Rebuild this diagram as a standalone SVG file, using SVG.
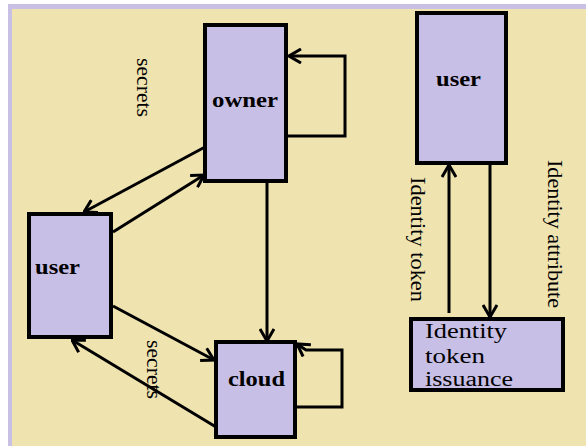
<svg xmlns="http://www.w3.org/2000/svg" width="586" height="446" viewBox="0 0 586 446">
<style>
.node{fill:#C8BFE6;stroke:#000;stroke-width:4}
.lbl{font-family:"Liberation Serif","Times New Roman",serif;font-weight:bold;font-size:22px;fill:#000}
.txt{font-family:"Liberation Serif","Times New Roman",serif;font-size:20px;fill:#000}
.rot{font-family:"Liberation Serif","Times New Roman",serif;font-size:22px;fill:#000}
.edge{fill:none;stroke:#000;stroke-width:3}
</style>
<defs>
<marker id="arr" viewBox="0 0 14 16" refX="13" refY="8" markerWidth="14" markerHeight="16" markerUnits="userSpaceOnUse" orient="auto">
<path d="M1,1 L13,8 L1,15" fill="none" stroke="#000" stroke-width="3"/>
</marker>
</defs>
<rect x="0" y="0" width="586" height="446" fill="#FFFFFF"/>
<rect x="8" y="4" width="578" height="442" fill="#C9C0E6"/>
<rect x="12" y="9" width="574" height="437" fill="#EFE3B0"/>

<g id="connectors">
<line class="edge" x1="205" y1="147" x2="84" y2="212" marker-end="url(#arr)"/>
<line class="edge" x1="113" y1="232" x2="204" y2="175" marker-end="url(#arr)"/>
<line class="edge" x1="113" y1="306" x2="214" y2="360" marker-end="url(#arr)"/>
<line class="edge" x1="216" y1="427" x2="72" y2="340" marker-end="url(#arr)"/>
<line class="edge" x1="267" y1="182" x2="267" y2="341" marker-end="url(#arr)"/>
<polyline class="edge" points="288,136 345,136 345,56 289,56" marker-end="url(#arr)"/>
<polyline class="edge" points="297,407 342,407 342,350 306,350 297,344" marker-end="url(#arr)"/>
<line class="edge" x1="449" y1="313" x2="449" y2="165" marker-end="url(#arr)"/>
<line class="edge" x1="490" y1="164" x2="490" y2="317" marker-end="url(#arr)"/>
</g>

<g id="owner">
<rect class="node" x="205" y="25" width="81" height="156"/>
<text class="lbl" x="212" y="107" textLength="66" lengthAdjust="spacingAndGlyphs">owner</text>
</g>
<g id="user-left">
<rect class="node" x="29" y="214" width="82" height="123"/>
<text class="lbl" x="35" y="274" textLength="45" lengthAdjust="spacingAndGlyphs">user</text>
</g>
<g id="cloud">
<rect class="node" x="216" y="342" width="79" height="95"/>
<text class="lbl" x="228" y="386" textLength="57" lengthAdjust="spacingAndGlyphs">cloud</text>
</g>
<g id="user-right">
<rect class="node" x="417" y="13" width="89" height="150"/>
<text class="lbl" x="436" y="86" textLength="45" lengthAdjust="spacingAndGlyphs">user</text>
</g>
<g id="issuance">
<rect class="node" x="411" y="319" width="152" height="71"/>
<text class="txt" x="425" y="338" textLength="82" lengthAdjust="spacingAndGlyphs">Identity</text>
<text class="txt" x="425" y="363" textLength="60" lengthAdjust="spacingAndGlyphs">token</text>
<text class="txt" x="425" y="386" textLength="88" lengthAdjust="spacingAndGlyphs">issuance</text>
</g>

<g id="labels">
<text class="rot" transform="translate(137,58) rotate(90)" textLength="59" lengthAdjust="spacingAndGlyphs">secrets</text>
<text class="rot" transform="translate(147,340) rotate(90)" textLength="59" lengthAdjust="spacingAndGlyphs">secrets</text>
<text class="rot" transform="translate(411,177) rotate(90)" textLength="125" lengthAdjust="spacingAndGlyphs">Identity token</text>
<text class="rot" transform="translate(548,160) rotate(90)" textLength="148" lengthAdjust="spacingAndGlyphs">Identity attribute</text>
</g>
</svg>
